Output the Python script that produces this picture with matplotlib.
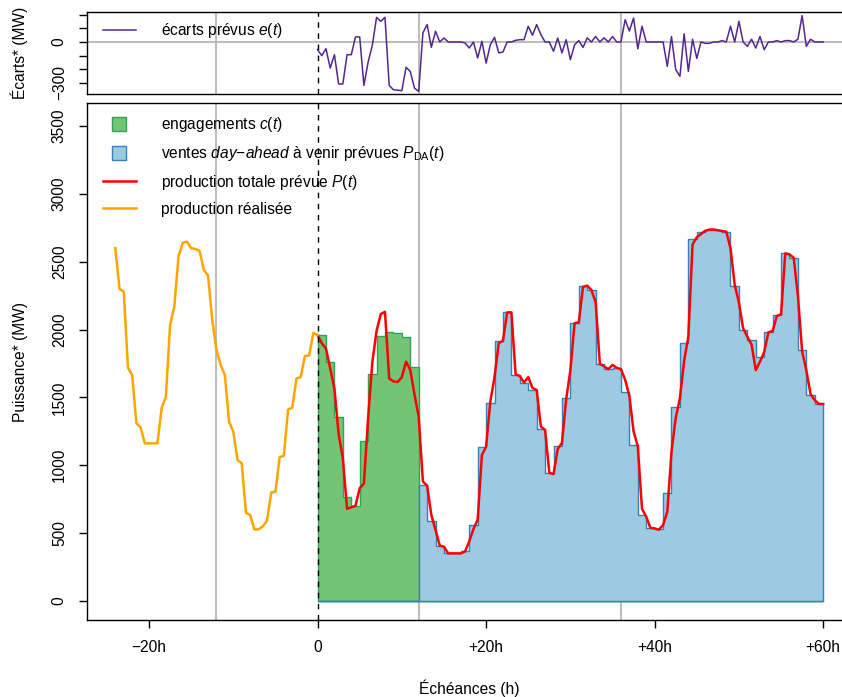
import numpy as np
import matplotlib
matplotlib.use('Agg')
import matplotlib.pyplot as plt
from matplotlib.lines import Line2D

plt.rcParams['font.family'] = ['Liberation Sans', 'DejaVu Sans']
plt.rcParams['font.size'] = 11.2
plt.rcParams['mathtext.fontset'] = 'custom'
plt.rcParams['mathtext.rm'] = 'Liberation Sans'
plt.rcParams['mathtext.it'] = 'Liberation Sans:italic'

## Data (pas de 30 min pour les courbes, pas horaire pour les ventes)
# production realisee, t = -24h .. 0
realise = [2600, 2300, 2280, 1720, 1665, 1310, 1280, 1162, 1162, 1162,
           1162, 1422, 1506, 2034, 2169, 2540, 2640, 2648, 2600, 2594,
           2580, 2440, 2400, 2070, 1850, 1740, 1665, 1320, 1248, 1040,
           1015, 650, 634, 528, 528, 550, 592, 800, 805, 1060,
           1071, 1410, 1425, 1640, 1650, 1805, 1810, 1975, 1960]

# production totale prevue P(t), t = 0 .. 60h
prevu = [1960, 1900, 1860, 1713, 1565, 1230, 1052, 680, 690, 702,
         830, 866, 1350, 1760, 1990, 2115, 2131, 1640, 1618, 1614,
         1650, 1764, 1703, 1523, 1358, 880, 850, 634, 523, 408,
         400, 351, 351, 351, 351, 365, 440, 530, 600, 1076,
         1137, 1469, 1650, 1900, 1918, 2127, 2127, 1670, 1658, 1610,
         1650, 1570, 1555, 1285, 1260, 945, 935, 1120, 1165, 1486,
         1700, 2047, 2054, 2315, 2324, 2292, 2200, 1747, 1730, 1708,
         1740, 1718, 1708, 1630, 1512, 1250, 1140, 680, 621, 538,
         535, 525, 560, 658, 1100, 1350, 1494, 1770, 1950, 2628,
         2680, 2705, 2728, 2737, 2738, 2732, 2726, 2722, 2600, 2330,
         2200, 2009, 1948, 1890, 1702, 1764, 1835, 1980, 1990, 2100,
         2113, 2562, 2554, 2530, 2250, 1840, 1700, 1525, 1480, 1452,
         1452]

# ecarts prevus e(t), t = 0 .. 60h
ecarts = [-56, -100, -49, -190, -93, -307, -307, -93, -93, 37,
          37, -317, -146, -24, 180, 151, 180, -317, -349, -352,
          -356, -185, -215, -337, -361, 66, 127, -39, 78, 0,
          29, 0, 0, 0, 0, -7, -44, 0, -117, 5,
          -154, -20, 34, -80, -73, 0, 0, 12, 17, 17,
          115, 49, 127, 54, 0, 0, -68, 29, -80, 17,
          -129, -20, 10, -40, 30, 0, 40, 0, 30, 0,
          40, 0, 0, 163, 80, 175, -50, 115, 0, 0,
          0, 0, 0, -178, 40, -202, -251, 60, -215, 20,
          -120, 0, -10, -10, 0, 0, 10, 0, 115, 0,
          151, 0, -32, 20, -44, 40, -56, 0, 0, 10,
          0, 10, 10, 0, 20, 193, -32, 20, 0, 0,
          0]

# engagements c(t), heures 0 .. 11
engagements = [1960, 1764, 1358, 769, 700, 1179, 1675, 1953, 1980, 1975, 1948, 1722]

# ventes day-ahead a venir P_DA(t), heures 12 .. 59
ventes_da = [855, 592, 408, 351, 351, 371, 560, 1137, 1461, 1917,
             2127, 1668, 1606, 1557, 1266, 946, 1143, 1498, 2052, 2322,
             2290, 1750, 1708, 1718, 1538, 1150, 634, 540, 530, 794,
             1432, 1899, 2665, 2717, 2734, 2734, 2717, 2321, 1997, 1923,
             1796, 1985, 2108, 2562, 2525, 1850, 1518, 1452]

t_real = np.arange(len(realise)) * 0.5 - 24
t_prev = np.arange(len(prevu)) * 0.5

# series horaires sur 0..60 (zero hors de leur plage), derniere valeur repetee pour le pas
heures = np.arange(0, 61)
c_h = np.concatenate([engagements, np.zeros(len(ventes_da))])
da_h = np.concatenate([np.zeros(len(engagements)), ventes_da])
c_h = np.append(c_h, c_h[-1])
da_h = np.append(da_h, da_h[-1])

xlim = (-27.36, 63.36)
grid_col = '#BEBEBE'

fig = plt.figure(figsize=(8.42, 6.97), dpi=100)
ax_e = fig.add_axes([87/842, 1 - 94/697, 764.5/842, 82/697])
ax = fig.add_axes([87/842, 1 - 620/697, 764.5/842, 517/697])

########### Top panel : ecarts ###########
for v in [-12, 12, 36]:
    ax_e.axvline(v, color=grid_col, lw=1.5, zorder=1)
ax_e.axhline(0, color=grid_col, lw=1.5, zorder=1)
ax_e.axvline(0, color='black', lw=1, ls=(0, (4, 4)), zorder=5)
ax_e.plot(t_prev, ecarts, color='#54278F', lw=1.1, zorder=3)
ax_e.set_xlim(*xlim)
ax_e.set_ylim(-380, 219)
ax_e.set_xticks([])
ax_e.set_yticks([-300, -200, -100, 0, 100, 200])
ax_e.set_yticklabels(['\u2212300', '', '', '0', '', ''])
ax_e.set_ylabel('Écarts* (MW)')
ax_e.yaxis.set_label_coords(-0.077, 0.5)
ax_e.legend(handles=[Line2D([], [], color='#54278F', lw=1.1)],
            labels=['écarts prévus $e(t)$'],
            loc='upper left', bbox_to_anchor=(103/842, 1 - 21/697),
            bbox_transform=fig.transFigure, frameon=False,
            borderpad=0, borderaxespad=0, handlelength=2.1, handletextpad=1.6)

########### Main panel ###########
for v in [-12, 12, 36]:
    ax.axvline(v, color=grid_col, lw=1.5, zorder=1)
ax.fill_between(heures, 0, c_h, step='post', facecolor='#74C476',
                edgecolor='#31A354', lw=1, zorder=2)
ax.fill_between(heures, 0, da_h, step='post', facecolor='#9ECAE1',
                edgecolor='#3182BD', lw=1, zorder=3)
ax.plot(t_prev, prevu, color='#FF0000', lw=1.8, zorder=4)
ax.plot(t_real, realise, color='#FFA500', lw=1.8, zorder=4)
ax.axvline(0, color='black', lw=1, ls=(0, (4, 4)), zorder=5)

ax.set_xlim(*xlim)
ax.set_ylim(-140, 3670)
ax.set_xticks([-20, 0, 20, 40, 60])
ax.set_xticklabels(['\u221220h', '0', '+20h', '+40h', '+60h'])
ax.set_yticks(np.arange(0, 3501, 500))
ax.set_xlabel('Échéances (h)')
ax.xaxis.set_label_coords(0.5, -0.115)
ax.set_ylabel('Puissance* (MW)')
ax.yaxis.set_label_coords(-0.077, 0.5)

for a in (ax, ax_e):
    a.tick_params(direction='out', length=5.5, width=1)
    a.tick_params(axis='y', pad=9)
    for lab in a.get_yticklabels():
        lab.set_rotation(90)
        lab.set_va('center')
    for s in a.spines.values():
        s.set_linewidth(1)
ax.tick_params(axis='x', pad=9)

handles = [Line2D([], [], ls='none', marker='s', markersize=10,
                  markerfacecolor='#74C476', markeredgecolor='#31A354'),
           Line2D([], [], ls='none', marker='s', markersize=10,
                  markerfacecolor='#9ECAE1', markeredgecolor='#3182BD'),
           Line2D([], [], color='#FF0000', lw=1.8),
           Line2D([], [], color='#FFA500', lw=1.8)]
labels = ['engagements $c(t)$',
          'ventes $\\mathit{day}$\u2212$\\mathit{ahead}$ à venir prévues $P_{\\mathrm{DA}}(t)$',
          'production totale prévue $P(t)$',
          'production réalisée']
ax.legend(handles=handles, labels=labels, loc='upper left',
          bbox_to_anchor=(103/842, 1 - 115/697), bbox_transform=fig.transFigure,
          frameon=False, borderpad=0, borderaxespad=0,
          handlelength=2.1, handletextpad=1.6, labelspacing=0.64)

plt.savefig('out.png', dpi=100)
